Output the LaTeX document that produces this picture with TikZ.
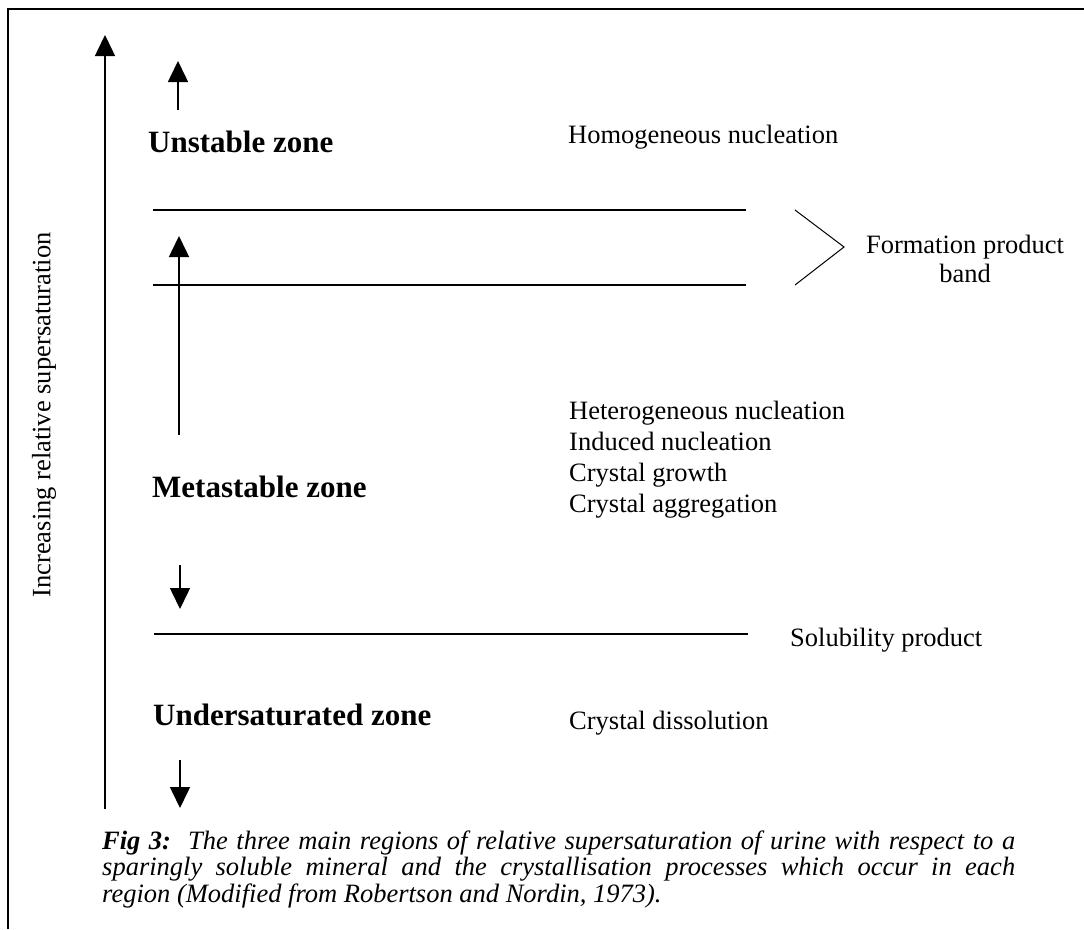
\documentclass[tikz,border=0pt]{standalone}
\usepackage{fontspec}
\setmainfont{Liberation Serif}
\usetikzlibrary{arrows.meta,positioning}

\begin{document}
\begin{tikzpicture}[x=1pt, y=-1pt,
    zone/.style={anchor=base west, inner sep=0pt, font=\fontsize{31}{37}\selectfont\bfseries},
    proc/.style={anchor=base west, inner sep=0pt, align=left, font=\fontsize{26.5}{31}\selectfont},
    level/.style={line width=1.5pt},
    arr/.style={-{Triangle[length=21pt,width=20pt]}, line width=1.5pt}
]
    \useasboundingbox (0,0) rectangle (1084,929);

    % Frame
    \draw[line width=1.5pt] (8,929) -- (8,9) -- (1084,9);

    % Supersaturation axis
    \coordinate (axbot) at (105,809);
    \coordinate (axtop) at (105,35);
    \draw[arr] (axbot) -- (axtop);
    \node (axis) [rotate=90, inner sep=0pt, font=\fontsize{26.5}{31}\selectfont] at (44,415) {Increasing relative supersaturation};

    % Unstable zone
    \node (unst) [zone] at (148,152) {Unstable zone};
    \node (homo) [proc] at (568,143) {Homogeneous nucleation};
    \coordinate (u1) at (178,110);
    \coordinate (u2) at (178,61);
    \draw[arr] (u1) -- (u2);

    % Formation product band (base = last line)
    \draw[level] (153,210) -- (746,210);
    \draw[level] (153,285) -- (746,285);
    \draw[line width=1pt] (795,210) -- (844,247) -- (795,285);
    \node (form) [inner sep=0pt, align=center, anchor=base, font=\fontsize{26.5}{29}\selectfont] at (965,282) {Formation product\\band};

    % Metastable zone
    \coordinate (m1) at (179,435);
    \coordinate (m2) at (179,236);
    \draw[arr] (m1) -- (m2);
    \node (meta) [zone] at (152,497) {Metastable zone};
    \node (hetero) [proc] at (569,512) {Heterogeneous nucleation\\Induced nucleation\\Crystal growth\\Crystal aggregation};
    \coordinate (m3) at (180,565);
    \coordinate (m4) at (180,609);
    \draw[arr] (m3) -- (m4);

    % Solubility product
    \draw[level] (154,634) -- (748,634);
    \node (solub) [proc] at (790,646) {Solubility product};

    % Undersaturated zone
    \node (under) [zone] at (153,725) {Undersaturated zone};
    \node (dissol) [proc] at (569,729) {Crystal dissolution};
    \coordinate (d1) at (180,760);
    \coordinate (d2) at (180,808);
    \draw[arr] (d1) -- (d2);

    % Caption
    \node (cap) [anchor=base west, inner sep=0pt, align=left, font=\fontsize{26.5}{26.5}\selectfont\itshape] at (102,902) {%
        \makebox[913pt][s]{\textbf{Fig 3:}\ \ The three main regions of relative supersaturation of urine with respect to a}\\
        \makebox[913pt][s]{sparingly soluble mineral and the crystallisation processes which occur in each}\\
        region (Modified from Robertson and Nordin, 1973).};
\end{tikzpicture}
\end{document}
